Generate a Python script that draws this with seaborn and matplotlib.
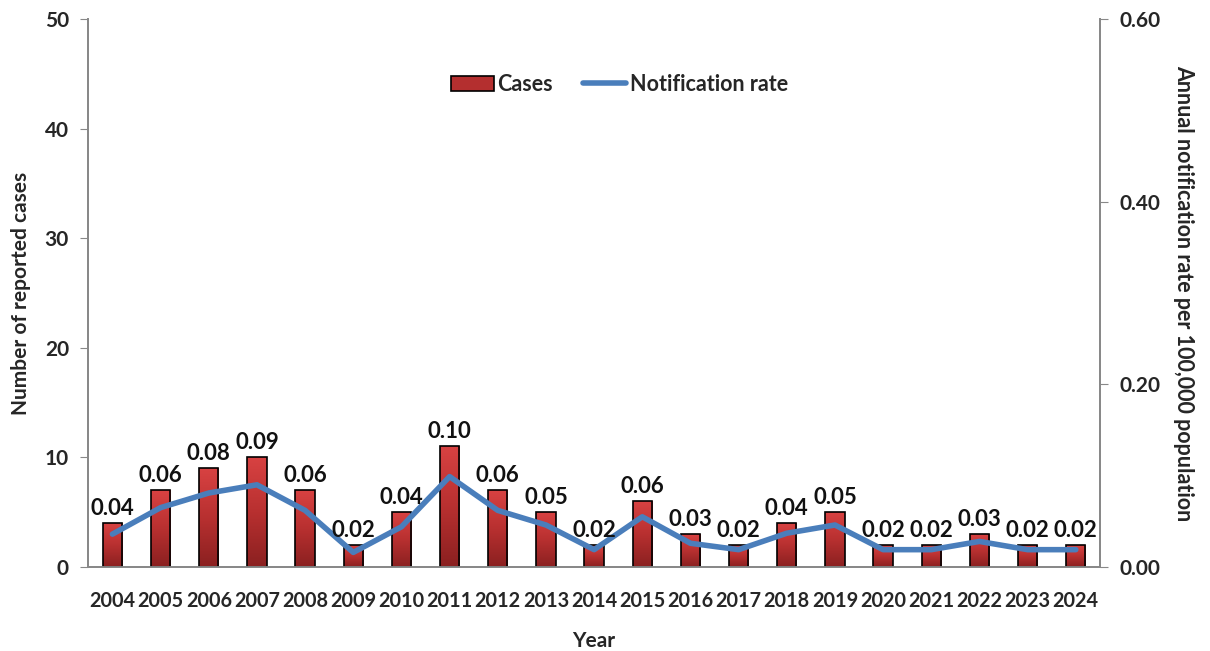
import numpy as np
import pandas as pd
import matplotlib
matplotlib.use("Agg")
import matplotlib.pyplot as plt
import seaborn as sns
from matplotlib.colors import LinearSegmentedColormap
from matplotlib.lines import Line2D
from matplotlib.patches import Patch

years = ["2004", "2005", "2006", "2007", "2008", "2009", "2010", "2011", "2012", "2013", "2014",
         "2015", "2016", "2017", "2018", "2019", "2020", "2021", "2022", "2023", "2024"]
cases = [4, 7, 9, 10, 7, 2, 5, 11, 7, 5, 2, 6, 3, 2, 4, 5, 2, 2, 3, 2, 2]
rates = [0.036, 0.065, 0.081, 0.090, 0.062, 0.016, 0.044, 0.099, 0.062, 0.046, 0.019,
         0.055, 0.026, 0.019, 0.037, 0.046, 0.019, 0.019, 0.028, 0.019, 0.019]
rate_labels = ["0.04", "0.06", "0.08", "0.09", "0.06", "0.02", "0.04", "0.10", "0.06", "0.05", "0.02",
               "0.06", "0.03", "0.02", "0.04", "0.05", "0.02", "0.02", "0.03", "0.02", "0.02"]

df = pd.DataFrame({"Year": years, "Cases": cases, "Rate": rates})
df["pos"] = np.arange(len(df))

sns.set_style("white")
plt.rcParams["font.family"] = ["Lato", "DejaVu Sans"]
plt.rcParams["font.weight"] = "bold"

fig = plt.figure(figsize=(12.10, 6.51), dpi=100)
ax = fig.add_axes([0.073, 0.129, 0.836, 0.842])

sns.barplot(data=df, x="Year", y="Cases", ax=ax, color="#c0392b", width=0.40,
            edgecolor="black", linewidth=1.2, zorder=2)

cmap = LinearSegmentedColormap.from_list("redgrad", ["#8a2020", "#b83030", "#d84242"])
grad = np.linspace(0, 1, 256).reshape(-1, 1)
for p in ax.patches:
    x0, y0 = p.get_x(), p.get_y()
    w, h = p.get_width(), p.get_height()
    im = ax.imshow(grad, cmap=cmap, origin="lower", aspect="auto",
                   extent=[x0, x0 + w, y0, y0 + h], zorder=2.5)
    im.set_clip_path(p)
    p.set_facecolor("none")
    p.set_zorder(3)

ax.set_xlim(-0.5, len(years) - 0.5)
ax.set_ylim(0, 50)
ax.set_yticks([0, 10, 20, 30, 40, 50])

ax2 = ax.twinx()
sns.lineplot(data=df, x="pos", y="Rate", ax=ax2, color="#4a7ebb", linewidth=4, zorder=4)
ax2.set_ylim(0, 0.6)
ax2.set_yticks([0, 0.2, 0.4, 0.6])
ax2.set_yticklabels([f"{v:.2f}" for v in [0, 0.2, 0.4, 0.6]])
ax2.set_xlim(-0.5, len(years) - 0.5)

# data labels on the top axes so they sit above the line
for p, lab in zip(ax.patches, rate_labels):
    xc = p.get_x() + p.get_width() / 2
    ax2.annotate(lab, (xc, p.get_height() * 0.6 / 50),
                 xytext=(0, 3), textcoords="offset points", ha="center", va="bottom",
                 fontsize=16, fontweight="bold", color="#111111", zorder=6)

for a in (ax, ax2):
    for s in a.spines.values():
        s.set_color("#888888")
        s.set_linewidth(1.3)
    a.spines["top"].set_visible(False)
ax.tick_params(axis="y", which="both", left=True, length=6, color="#888888",
               labelsize=15, pad=8)
ax.tick_params(axis="x", bottom=False, labelsize=14.3, pad=14)
ax2.tick_params(axis="y", right=True, length=6, color="#888888", labelsize=15, pad=8)
for t in ax.get_xticklabels() + ax.get_yticklabels() + ax2.get_yticklabels():
    t.set_fontweight("bold")

ax.set_xlabel("Year", fontsize=15, fontweight="bold", labelpad=14)
ax.set_ylabel("Number of reported cases", fontsize=15, fontweight="bold", labelpad=10)
ax2.set_ylabel("Annual notification rate per 100,000 population", fontsize=15.5,
               fontweight="bold", rotation=270, labelpad=24)
ax2.set_xlabel("")

ax.set_zorder(0)
ax2.set_zorder(1)
ax2.patch.set_visible(False)

handles = [Patch(facecolor="#b42f2f", edgecolor="black", linewidth=1.2, label="Cases"),
           Line2D([0], [0], color="#4a7ebb", linewidth=4, label="Notification rate")]
ax2.legend(handles=handles, loc="upper center", bbox_to_anchor=(0.525, 0.935), ncol=2,
           frameon=False, fontsize=15.5, handlelength=2.0, handletextpad=0.15,
           columnspacing=1.4)

fig.savefig("out.png", dpi=100)
